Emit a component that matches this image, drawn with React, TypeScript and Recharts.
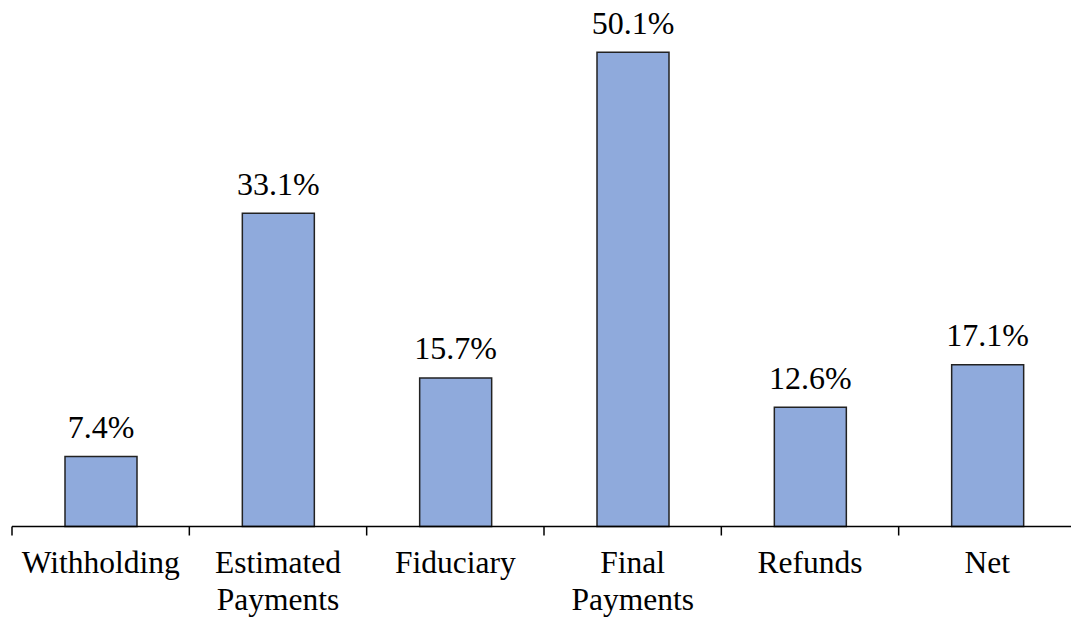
import React from "react";
import { BarChart, Bar, XAxis, YAxis, LabelList } from "recharts";

const categories = ["Withholding", "Estimated Payments", "Fiduciary", "Final Payments", "Refunds", "Net"];
const values = [7.4, 33.1, 15.7, 50.1, 12.6, 17.1];

const data = categories.map((name, i) => ({ name, value: values[i] }));

const FONT = '"Liberation Serif", "Times New Roman", serif';
const CHART_W = 1076;
const LEFT = 12;
const HALF_BAND = (CHART_W - LEFT) / categories.length / 2;

const CategoryTick = ({ x, y, payload }: any) => {
  const lines = String(payload.value).split(" ");
  return (
    <g>
      <line x1={x - HALF_BAND} y1={y} x2={x - HALF_BAND} y2={y + 9} stroke="#000" strokeWidth={1.5} />
      {lines.map((l, i) => (
        <text
          key={i}
          x={x}
          y={y + 46.5 + i * 37}
          textAnchor="middle"
          fontFamily={FONT}
          fontSize={31.5}
          fill="#000"
        >
          {l}
        </text>
      ))}
    </g>
  );
};

export default function App() {
  return (
    <div style={{ position: "absolute", left: 0, top: 0, width: 1071, height: 618, overflow: "hidden", background: "#fff" }}>
      <BarChart width={CHART_W} height={618} data={data} margin={{ top: 6, right: 0, left: LEFT, bottom: 0 }}>
        <XAxis
          dataKey="name"
          height={91.5}
          tickLine={false}
          tickSize={0}
          tickMargin={0}
          interval={0}
          axisLine={{ stroke: "#000", strokeWidth: 1.5 }}
          tick={<CategoryTick />}
        />
        <YAxis hide domain={[0, 55]} />
        <Bar dataKey="value" fill="#8FAADC" stroke="#222" strokeWidth={1.5} barSize={72} isAnimationActive={false}>
          <LabelList
            dataKey="value"
            position="top"
            offset={18.5}
            formatter={(v: any) => `${Number(v).toFixed(1)}%`}
            style={{ fontFamily: FONT, fontSize: 32, fill: "#000" }}
          />
        </Bar>
      </BarChart>
    </div>
  );
}
